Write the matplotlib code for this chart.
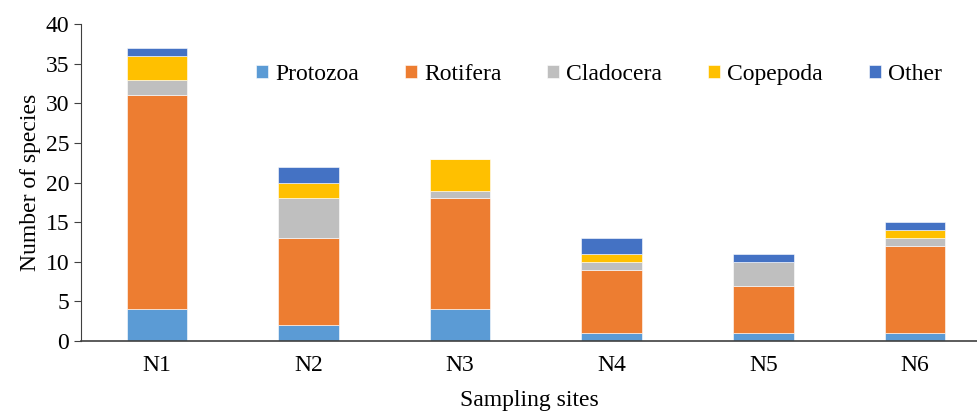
import matplotlib.pyplot as plt
import numpy as np

plt.rcParams["font.family"] = ["Liberation Serif", "DejaVu Serif"]

sites = ["N1", "N2", "N3", "N4", "N5", "N6"]
groups = ["Protozoa", "Rotifera", "Cladocera", "Copepoda", "Other"]
protozoa = [4, 2, 4, 1, 1, 1]
rotifera = [27, 11, 14, 8, 6, 11]
cladocera = [2, 5, 1, 1, 3, 1]
copepoda = [3, 2, 4, 1, 0, 1]
other = [1, 2, 0, 2, 1, 1]
colors = ["#5B9BD5", "#ED7D31", "#BFBFBF", "#FFC000", "#4472C4"]

fig = plt.figure(figsize=(9.77, 4.15), dpi=100)
ax = fig.add_axes([0.083, 0.178, 0.917, 0.764])

x = np.arange(len(sites))
bottom = np.zeros(len(sites))
for name, vals, c in zip(groups, [protozoa, rotifera, cladocera, copepoda, other], colors):
    ax.bar(x, vals, 0.4, bottom=bottom, color=c, label=name,
           edgecolor="white", linewidth=0.4)
    bottom += np.array(vals)

ax.set_ylim(0, 40)
ax.set_yticks(range(0, 41, 5))
ax.set_xlim(-0.5, 5.41)
ax.set_xticks(x)
ax.set_xticklabels(sites)
ax.tick_params(axis="x", length=0, labelsize=17, pad=10)
ax.tick_params(axis="y", length=5, direction="out", labelsize=17, color="#404040")
for s in ["top", "right"]:
    ax.spines[s].set_visible(False)
ax.spines["left"].set_color("#404040")
ax.spines["bottom"].set_color("#404040")
ax.spines["bottom"].set_linewidth(1.2)

ax.set_ylabel("Number of species", fontsize=17, labelpad=3)
ax.set_xlabel("Sampling sites", fontsize=17, labelpad=10)

ax.legend(loc="center", bbox_to_anchor=(0.578, 0.842), ncol=5, frameon=False,
          fontsize=17, handlelength=0.5, handleheight=0.5, handletextpad=0.3,
          columnspacing=1.95)

plt.savefig("out.png", dpi=100)
